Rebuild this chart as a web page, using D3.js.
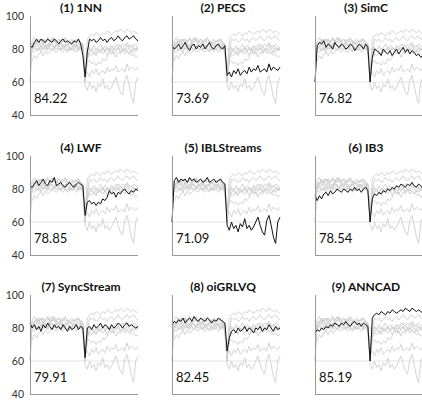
<!DOCTYPE html>
<html>
<head>
<meta charset="utf-8">
<script src="https://cdn.jsdelivr.net/npm/d3@7"></script>
<style>
  body { margin: 0; background: #fff; }
  text { font-family: Lato, "Open Sans", sans-serif; }
</style>
</head>
<body>
<div id="chart"></div>
<script>
const methods = ['1NN', 'PECS', 'SimC', 'LWF', 'IBLStreams', 'IB3', 'SyncStream', 'oiGRLVQ', 'ANNCAD']
const scores = ['84.22', '73.69', '76.82', '78.85', '71.09', '78.54', '79.91', '82.45', '85.19']
const yTicks = [40, 60, 80, 100]
const gridValues = [60, 80]

// accuracy curves, one value per step of the stream
const acc1NN = [82, 81, 84, 86, 84, 86, 85, 84, 86, 85, 84, 86, 85, 83, 85, 86, 84, 85, 84, 83, 85, 84, 86, 83, 76, 63, 78, 86, 85, 86, 84, 85, 87, 85, 86, 84, 86, 87, 85, 86, 88, 86, 85, 87, 88, 86, 87, 88, 86, 85]
const accPECS = [82, 80, 81, 83, 80, 82, 84, 81, 79, 82, 83, 80, 82, 81, 83, 80, 82, 84, 81, 80, 82, 83, 81, 80, 82, 64, 66, 63, 67, 65, 68, 64, 66, 67, 65, 69, 66, 68, 67, 70, 66, 67, 68, 66, 71, 67, 69, 68, 67, 69]
const accSimC = [60, 82, 84, 83, 85, 81, 83, 82, 80, 84, 82, 81, 83, 82, 80, 81, 83, 82, 79, 81, 83, 82, 80, 83, 81, 60, 75, 80, 79, 78, 76, 80, 78, 77, 79, 76, 78, 80, 77, 79, 81, 78, 80, 77, 79, 78, 76, 77, 75, 76]
const accLWF = [82, 81, 83, 85, 82, 84, 86, 83, 82, 85, 84, 87, 82, 83, 84, 82, 81, 83, 84, 82, 81, 83, 84, 83, 82, 64, 72, 73, 71, 72, 70, 72, 71, 74, 73, 75, 79, 77, 78, 75, 78, 77, 79, 80, 78, 77, 79, 78, 80, 79]
const accIBL = [60, 85, 87, 84, 86, 85, 86, 84, 87, 85, 86, 84, 85, 86, 84, 85, 87, 84, 85, 86, 84, 85, 86, 84, 83, 58, 55, 60, 56, 58, 54, 59, 57, 62, 56, 58, 55, 57, 60, 63, 58, 54, 52, 61, 64, 58, 51, 47, 60, 63]
const accIB3 = [76, 73, 76, 74, 77, 78, 76, 79, 77, 78, 80, 79, 78, 80, 79, 78, 80, 79, 81, 79, 80, 78, 80, 81, 79, 60, 74, 77, 76, 78, 77, 79, 78, 80, 79, 81, 80, 82, 81, 83, 82, 81, 83, 82, 84, 82, 81, 83, 82, 80]
const accSync = [83, 80, 82, 79, 81, 78, 82, 80, 83, 81, 79, 82, 80, 81, 79, 82, 80, 78, 81, 79, 80, 82, 79, 81, 80, 62, 80, 81, 79, 82, 80, 81, 83, 80, 82, 81, 79, 82, 80, 81, 83, 82, 80, 82, 83, 81, 82, 81, 80, 81]
const accGRLVQ = [82, 84, 83, 85, 84, 86, 83, 85, 86, 84, 87, 85, 84, 86, 85, 84, 86, 85, 83, 85, 84, 86, 85, 84, 83, 66, 74, 78, 79, 77, 80, 78, 79, 81, 78, 80, 79, 77, 80, 79, 81, 78, 80, 79, 82, 80, 78, 81, 79, 80]
const accANNCAD = [77, 79, 78, 80, 79, 81, 80, 82, 81, 83, 82, 81, 83, 82, 84, 82, 81, 83, 84, 82, 83, 81, 83, 82, 81, 60, 86, 88, 89, 88, 90, 89, 88, 90, 89, 91, 90, 89, 90, 91, 90, 92, 91, 90, 92, 91, 90, 91, 90, 89]

const series = [acc1NN, accPECS, accSimC, accLWF, accIBL, accIB3, accSync, accGRLVQ, accANNCAD]

const width = 422
const height = 402
const colLeft = [30, 172, 315]
const rowTop = [16, 156, 295]
const plotW = 108
const plotH = 99

const svg = d3.select('#chart')
  .append('svg')
  .attr('width', width)
  .attr('height', height)

const x = d3.scaleLinear().domain([0, acc1NN.length - 1]).range([0, plotW])
const y = d3.scaleLinear().domain([40, 100]).range([plotH, 0])

const line = d3.line()
  .x((d, i) => x(i))
  .y(d => y(d))

methods.forEach((name, k) => {
  const col = k % 3
  const row = Math.floor(k / 3)
  const g = svg.append('g')
    .attr('transform', `translate(${colLeft[col]},${rowTop[row]})`)

  g.selectAll('.grid')
    .data(gridValues)
    .enter()
    .append('line')
    .attr('x1', 0)
    .attr('x2', plotW)
    .attr('y1', d => y(d))
    .attr('y2', d => y(d))
    .attr('stroke', '#e4e4e4')
    .attr('stroke-width', 1)

  series.forEach((s, j) => {
    if (j === k) return
    g.append('path')
      .datum(s)
      .attr('d', line)
      .attr('fill', 'none')
      .attr('stroke', '#cfcfcf')
      .attr('stroke-width', 0.9)
  })

  g.append('path')
    .datum(series[k])
    .attr('d', line)
    .attr('fill', 'none')
    .attr('stroke', '#111')
    .attr('stroke-width', 1)

  // frame: left and bottom
  g.append('line')
    .attr('x1', 0.5).attr('x2', 0.5)
    .attr('y1', 0).attr('y2', plotH)
    .attr('stroke', '#999')
  g.append('line')
    .attr('x1', 0).attr('x2', plotW)
    .attr('y1', plotH + 0.5).attr('y2', plotH + 0.5)
    .attr('stroke', '#999')

  if (col === 0) {
    g.selectAll('.tick')
      .data(yTicks)
      .enter()
      .append('text')
      .attr('x', -6)
      .attr('y', d => y(d))
      .attr('dy', '0.35em')
      .attr('text-anchor', 'end')
      .attr('font-size', 10.5)
      .attr('fill', '#333')
      .text(d => d)
  }

  g.append('text')
    .attr('x', plotW / 2 - 3)
    .attr('y', -4)
    .attr('text-anchor', 'middle')
    .attr('font-size', 12)
    .attr('font-weight', 'bold')
    .attr('fill', '#111')
    .text(`(${k + 1}) ${name}`)

  g.append('text')
    .attr('x', 4)
    .attr('y', 87)
    .attr('font-size', 13)
    .attr('fill', '#111')
    .text(scores[k])
})
</script>
</body>
</html>
